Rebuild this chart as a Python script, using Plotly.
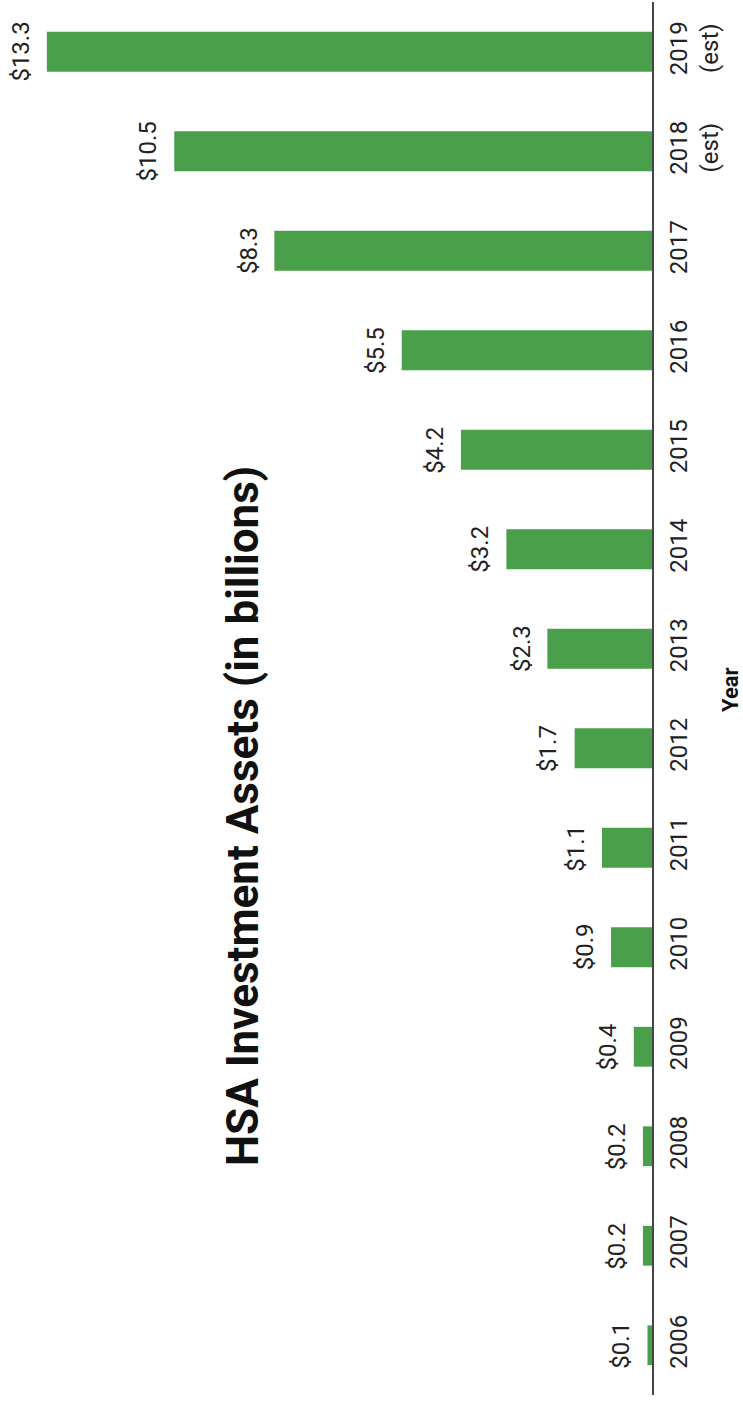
import plotly.graph_objects as go

years = [2006, 2007, 2008, 2009, 2010, 2011, 2012, 2013,
         2014, 2015, 2016, 2017, 2018, 2019]
year_labels = ["2006", "2007", "2008", "2009", "2010", "2011", "2012", "2013",
               "2014", "2015", "2016", "2017", "2018<br>(est)", "2019<br>(est)"]
assets = [0.1, 0.2, 0.2, 0.4, 0.9, 1.1, 1.7, 2.3, 3.2, 4.2, 5.5, 8.3, 10.5, 13.3]
value_labels = ["$0.1", "$0.2", "$0.2", "$0.4", "$0.9", "$1.1", "$1.7", "$2.3",
                "$3.2", "$4.2", "$5.5", "$8.3", "$10.5", "$13.3"]
title_text = "HSA Investment Assets (in billions)"
axis_title = "Year"

FONT = "Roboto, Arial, sans-serif"

L, R, T, B = 0, 91, 2, 9
W, H = 743, 1404
plot_w = W - L - R
plot_h = H - T - B

fig = go.Figure()
fig.add_trace(go.Bar(
    x=assets, y=years, orientation="h", width=0.4,
    marker=dict(color="#4aa04a", line=dict(width=0)),
    hoverinfo="skip",
))

annotations = []
for yv, xv, lab in zip(years, assets, value_labels):
    annotations.append(dict(
        x=xv, y=yv, xref="x", yref="y", text=lab, showarrow=False,
        textangle=-90, xshift=-26, xanchor="center", yanchor="middle",
        font=dict(family=FONT, size=24, color="#222222"),
    ))

# chart title
annotations.append(dict(
    x=(243 - L) / plot_w, y=(H - B - 816) / plot_h, xref="paper", yref="paper",
    text="<b>" + title_text + "</b>", xanchor="center", yanchor="middle",
    showarrow=False, textangle=-90, font=dict(family=FONT, size=44, color="#111111"),
))
# axis title
annotations.append(dict(
    x=(730 - L) / plot_w, y=(H - B - 690) / plot_h, xref="paper", yref="paper",
    text="<b>" + axis_title + "</b>", xanchor="center", yanchor="middle",
    showarrow=False, textangle=-90, font=dict(family=FONT, size=22, color="#111111"),
))

fig.update_layout(
    width=W, height=H,
    margin=dict(l=L, r=R, t=T, b=B, autoexpand=False),
    paper_bgcolor="white", plot_bgcolor="white",
    showlegend=False,
    annotations=annotations,
    xaxis=dict(range=[14.33, 0], showgrid=False, zeroline=False,
               showticklabels=False, showline=False, fixedrange=True),
    yaxis=dict(range=[2005.5, 2019.5], tickmode="array",
               tickvals=years, ticktext=year_labels,
               side="right", tickangle=-90, showgrid=False, zeroline=False,
               showline=True, linecolor="#444444", linewidth=2,
               ticks="", ticklabelstandoff=4,
               tickfont=dict(family=FONT, size=24, color="#222222")),
)

fig.write_html("out.html", config={"displayModeBar": False},
               post_script="document.body.style.margin='0px';")
